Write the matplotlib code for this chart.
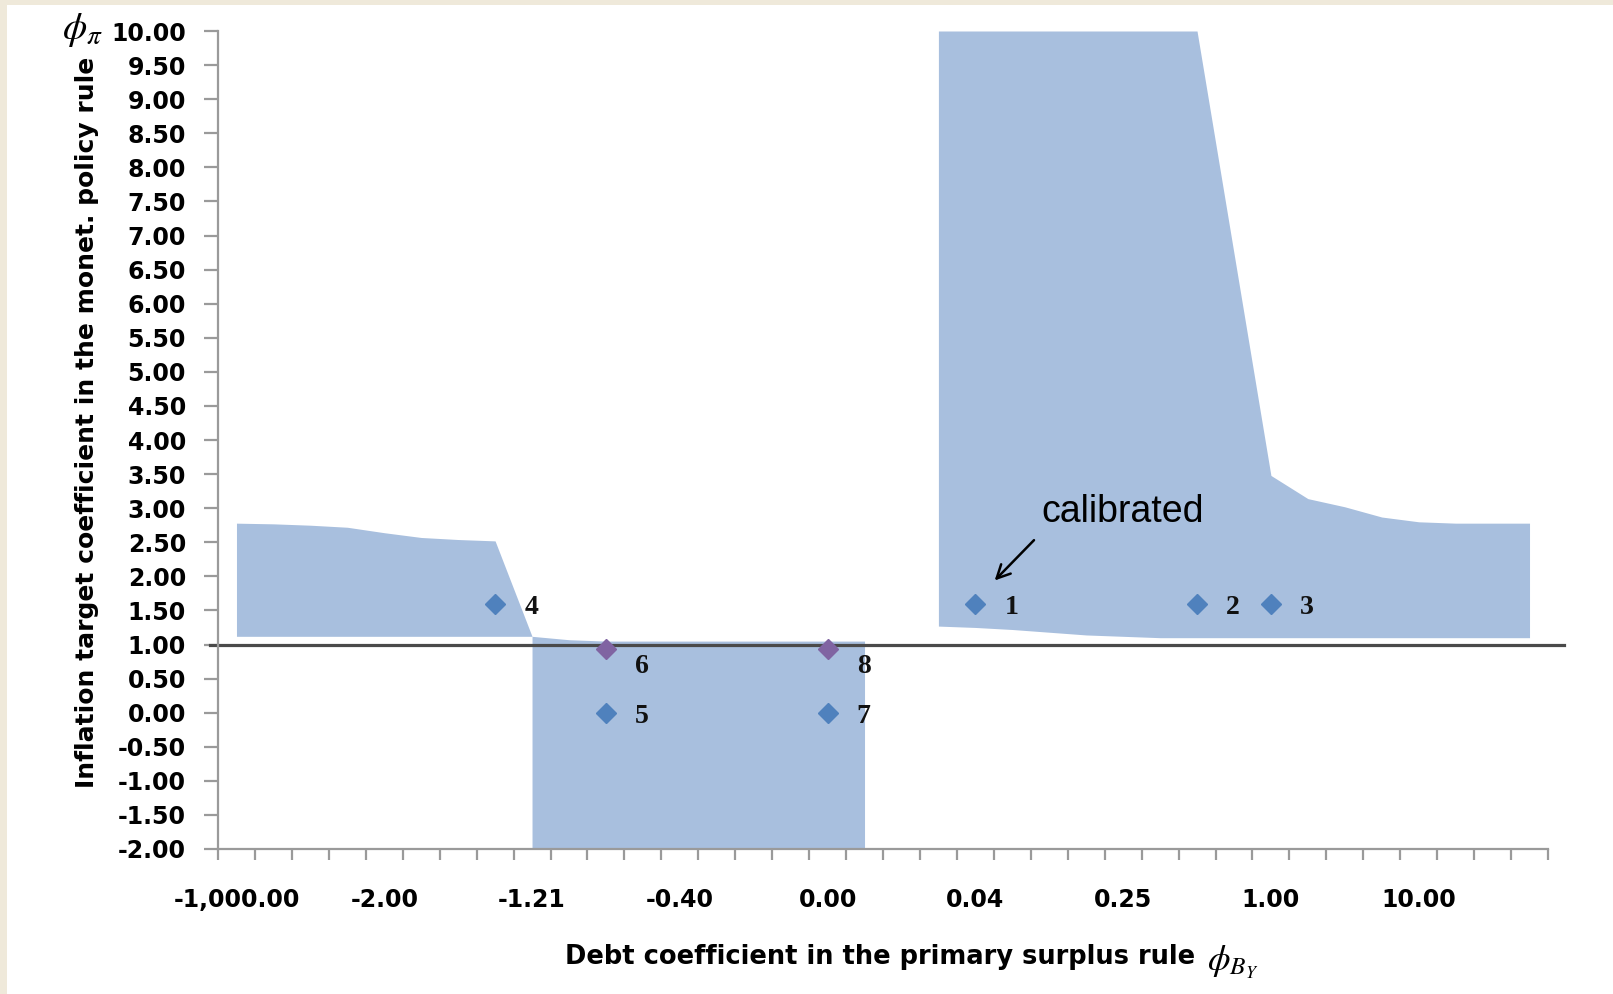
import numpy as np
import matplotlib
matplotlib.use("Agg")
import matplotlib.pyplot as plt
from matplotlib.patches import Rectangle

# Category axis: 36 positions, every fourth one carries a label
n_categories = 36
tick_label_positions = [0, 4, 8, 12, 16, 20, 24, 28, 32]
tick_labels = ["-1,000.00", "-2.00", "-1.21", "-0.40", "0.00",
               "0.04", "0.25", "1.00", "10.00"]

# Shaded determinacy regions: lower / upper bound of phi_pi per category
left_x = [0, 1, 2, 3, 4, 5, 6, 7, 8]
left_lower = [1.12, 1.12, 1.12, 1.12, 1.12, 1.12, 1.12, 1.12, 1.12]
left_upper = [2.78, 2.77, 2.75, 2.72, 2.64, 2.57, 2.54, 2.52, 1.12]

mid_x = [8, 9, 10, 11, 12, 13, 14, 15, 16, 17]
mid_lower = [-2.0] * 10
mid_upper = [1.12, 1.07, 1.05, 1.05, 1.05, 1.05, 1.05, 1.05, 1.05, 1.05]

right_x = [19, 20, 21, 22, 23, 24, 25, 26, 27, 28, 29, 30, 31, 32, 33, 34, 35]
right_lower = [1.27, 1.25, 1.22, 1.18, 1.14, 1.12, 1.10, 1.10, 1.10,
               1.10, 1.10, 1.10, 1.10, 1.10, 1.10, 1.10, 1.10]
right_upper = [10.0, 10.0, 10.0, 10.0, 10.0, 10.0, 10.0, 10.0, 6.74,
               3.48, 3.14, 3.02, 2.87, 2.80, 2.78, 2.78, 2.78]

# Policy combinations
pts_x = [20, 26, 28, 7, 10, 10, 16, 16]
pts_y = [1.60, 1.60, 1.60, 1.60, 0.00, 0.93, 0.00, 0.93]
pts_labels = ["1", "2", "3", "4", "5", "6", "7", "8"]
pts_groups = ["a", "a", "a", "a", "a", "b", "a", "b"]

y_ticks = np.arange(-2.0, 10.01, 0.5)

fill_color = "#A8BFDE"
blue = "#4F81BD"
purple = "#8064A2"
axis_gray = "#9A9A9A"

W, H = 1613, 994
fig = plt.figure(figsize=(W / 100, H / 100), dpi=100)
fig.patch.set_facecolor("#EFE9DA")
fig.add_artist(Rectangle((7 / W, 0), 1, (H - 5) / H, transform=fig.transFigure,
                         facecolor="white", edgecolor="none", zorder=0))

ax = fig.add_axes([218 / W, 1 - 849 / H, (1548 - 218) / W, (849 - 31) / H])
ax.set_facecolor("white")
ax.set_zorder(1)

for xs, lo, hi in [(left_x, left_lower, left_upper),
                   (mid_x, mid_lower, mid_upper),
                   (right_x, right_lower, right_upper)]:
    ax.fill_between(xs, lo, hi, color=fill_color, linewidth=0, zorder=1)

ax.plot([-0.72, 35.93], [1.0, 1.0], color="#4A4A4A", lw=2.3, clip_on=False, zorder=2)

for x, y, lab, g in zip(pts_x, pts_y, pts_labels, pts_groups):
    c = blue if g == "a" else purple
    ax.plot([x], [y], marker="D", markersize=10, color=c, markeredgecolor=c,
            linestyle="none", zorder=4, clip_on=False)
    dy = -17 if g == "b" else -4
    ax.annotate(lab, xy=(x, y), xytext=(36, dy), textcoords="offset pixels",
                ha="center", va="center", fontsize=20, fontweight="bold",
                family=["Liberation Serif", "DejaVu Serif"], color="#111111", zorder=5)

# calibrated pointer
ax.annotate("", xy=(20.47, 1.91), xytext=(21.64, 2.56),
            arrowprops=dict(arrowstyle="->", color="black", lw=1.8,
                            mutation_scale=24), zorder=5)
ax.text(21.78, 2.95, "calibrated", fontsize=27, family=["Liberation Sans", "DejaVu Sans"],
        ha="left", va="center", color="black", zorder=5)

ax.set_xlim(-0.5, n_categories - 0.5)
ax.set_ylim(-2.0, 10.0)

tick_font = dict(fontsize=17, fontweight="bold", family="DejaVu Sans")
ax.set_yticks(y_ticks)
ax.set_yticklabels([f"{v:.2f}" for v in y_ticks], **tick_font)
ax.tick_params(axis="y", direction="out", length=10, width=1.6, color=axis_gray, pad=13)

ax.set_xticks(np.arange(-0.5, n_categories, 1.0))
ax.set_xticklabels([])
ax.tick_params(axis="x", which="major", direction="out", length=8, width=1.6, color=axis_gray)
ax.set_xticks(tick_label_positions, minor=True)
ax.set_xticklabels(tick_labels, minor=True, **tick_font)
ax.tick_params(axis="x", which="minor", length=0, pad=28)

for s in ["top", "right"]:
    ax.spines[s].set_visible(False)
for s in ["left", "bottom"]:
    ax.spines[s].set_color(axis_gray)
    ax.spines[s].set_linewidth(1.6)

plt.rcParams["mathtext.fontset"] = "stix"
fig.text(87 / W, 1 - 422 / H, "Inflation target coefficient in the monet. policy rule",
         rotation=90, ha="center", va="center", fontsize=18, fontweight="bold",
         family="DejaVu Sans")
fig.text(82 / W, 1 - 30 / H, r"$\phi_{\pi}$", ha="center", va="center", fontsize=28)
fig.text(880 / W, 1 - 957 / H, "Debt coefficient in the primary surplus rule",
         ha="center", va="center", fontsize=18.5, fontweight="bold", family="DejaVu Sans")
fig.text(1207 / W, 1 - 962 / H, r"$\phi_{B_Y}$", ha="left", va="center", fontsize=26)

fig.savefig("out.png", dpi=100, facecolor=fig.get_facecolor())
